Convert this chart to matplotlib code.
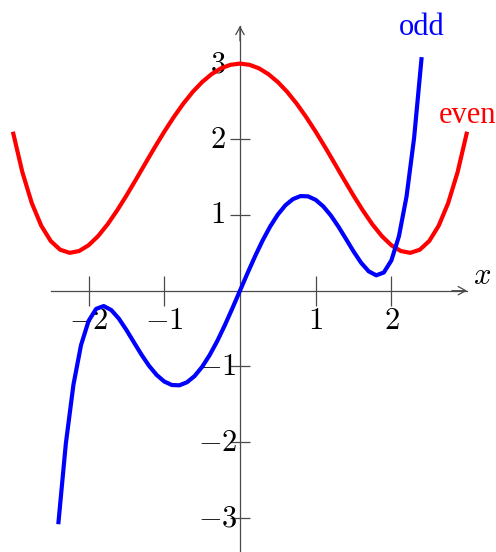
import matplotlib
matplotlib.use("Agg")
import matplotlib.pyplot as plt

plt.rcParams["mathtext.fontset"] = "cm"

# Sampled curves
even_x = [-3.0, -2.875, -2.75, -2.625, -2.5, -2.375, -2.25, -2.125, -2.0, -1.875,
          -1.75, -1.625, -1.5, -1.375, -1.25, -1.125, -1.0, -0.875, -0.75, -0.625,
          -0.5, -0.375, -0.25, -0.125, 0.0, 0.125, 0.25, 0.375, 0.5, 0.625,
          0.75, 0.875, 1.0, 1.125, 1.25, 1.375, 1.5, 1.625, 1.75, 1.875,
          2.0, 2.125, 2.25, 2.375, 2.5, 2.625, 2.75, 2.875, 3.0]
even_y = [2.100, 1.567, 1.157, 0.858, 0.656, 0.541, 0.500, 0.524, 0.600, 0.720,
          0.875, 1.057, 1.256, 1.467, 1.682, 1.895, 2.100, 2.293, 2.469, 2.625,
          2.756, 2.861, 2.938, 2.984, 3.000, 2.984, 2.938, 2.861, 2.756, 2.625,
          2.469, 2.293, 2.100, 1.895, 1.682, 1.467, 1.256, 1.057, 0.875, 0.720,
          0.600, 0.524, 0.500, 0.541, 0.656, 0.858, 1.157, 1.567, 2.100]

odd_x = [-2.4, -2.3, -2.2, -2.1, -2.0, -1.9, -1.8, -1.7, -1.6, -1.5,
         -1.4, -1.3, -1.2, -1.1, -1.0, -0.9, -0.8, -0.7, -0.6, -0.5,
         -0.4, -0.3, -0.2, -0.1, 0.0, 0.1, 0.2, 0.3, 0.4, 0.5,
         0.6, 0.7, 0.8, 0.9, 1.0, 1.1, 1.2, 1.3, 1.4, 1.5,
         1.6, 1.7, 1.8, 1.9, 2.0, 2.1, 2.2, 2.3, 2.4]
odd_y = [-3.085, -2.017, -1.243, -0.720, -0.400, -0.240, -0.203, -0.256, -0.369, -0.519,
         -0.684, -0.847, -0.994, -1.114, -1.200, -1.246, -1.250, -1.210, -1.128, -1.006,
         -0.850, -0.665, -0.456, -0.232, 0.000, 0.232, 0.456, 0.665, 0.850, 1.006,
         1.128, 1.210, 1.250, 1.246, 1.200, 1.114, 0.994, 0.847, 0.684, 0.519,
         0.369, 0.256, 0.203, 0.240, 0.400, 0.720, 1.243, 2.017, 3.085]

x_ticks = [-2, -1, 1, 2]
x_tick_labels = [r"$-2$", r"$-1$", r"$1$", r"$2$"]
y_ticks = [-3, -2, -1, 1, 2, 3]
y_tick_labels = [r"$-3$", r"$-2$", r"$-1$", r"$1$", r"$2$", r"$3$"]

x_axis_range = (-2.5, 3.0)
y_axis_range = (-3.5, 3.5)

axis_color = "#4a4a4a"
axis_lw = 0.9

fig = plt.figure(figsize=(4.96, 5.52), dpi=100)
ax = fig.add_axes([0, 0, 1, 1])
ax.set_xlim(-3.170, 3.382)
ax.set_ylim(-3.452, 3.840)
ax.patch.set_visible(False)

# Axis lines through the origin
for side in ("top", "right"):
    ax.spines[side].set_visible(False)
ax.spines["left"].set_position("zero")
ax.spines["bottom"].set_position("zero")
ax.spines["bottom"].set_bounds(*x_axis_range)
ax.spines["left"].set_bounds(*y_axis_range)
for side in ("left", "bottom"):
    ax.spines[side].set_color(axis_color)
    ax.spines[side].set_linewidth(axis_lw)

arrow = dict(arrowstyle="->,head_length=0.55,head_width=0.3", lw=axis_lw,
             color=axis_color, shrinkA=0, shrinkB=0)
ax.annotate("", xy=(x_axis_range[1], 0), xytext=(x_axis_range[1] - 0.2, 0),
            arrowprops=arrow, annotation_clip=False)
ax.annotate("", xy=(0, y_axis_range[1]), xytext=(0, y_axis_range[1] - 0.2),
            arrowprops=arrow, annotation_clip=False)

# Ticks and centred tick labels
ax.set_xticks(x_ticks, x_tick_labels)
ax.set_yticks(y_ticks, y_tick_labels)
ax.tick_params(axis="x", direction="inout", length=21.6, width=axis_lw,
               color=axis_color, pad=10.8, labelsize=22)
ax.tick_params(axis="y", direction="inout", length=14.4, width=axis_lw,
               color=axis_color, pad=9.0, labelsize=22)
for lbl in ax.get_xticklabels():
    lbl.set_verticalalignment("center")
for lbl in ax.get_yticklabels():
    lbl.set_horizontalalignment("center")
    lbl.set_verticalalignment("center")

# Curves
ax.plot(even_x, even_y, color="red", lw=3.0, clip_on=False, zorder=3,
        solid_joinstyle="round", solid_capstyle="butt")
ax.plot(odd_x, odd_y, color="blue", lw=3.0, clip_on=False, zorder=4,
        solid_joinstyle="round", solid_capstyle="butt")

# Curve names and axis label
ax.annotate("odd", xy=(odd_x[-1], odd_y[-1]), xytext=(0, 15.8),
            textcoords="offset points", ha="center", va="baseline",
            color="blue", fontsize=22, family="Liberation Serif")
ax.annotate("even", xy=(even_x[-1], even_y[-1]), xytext=(0, 6.5),
            textcoords="offset points", ha="center", va="baseline",
            color="red", fontsize=22, family="Liberation Serif")
ax.annotate(r"$x$", xy=(x_axis_range[1], 0), xytext=(10.8, 10.8),
            textcoords="offset points", ha="center", va="center", fontsize=22)

fig.savefig("out.png", dpi=100)
